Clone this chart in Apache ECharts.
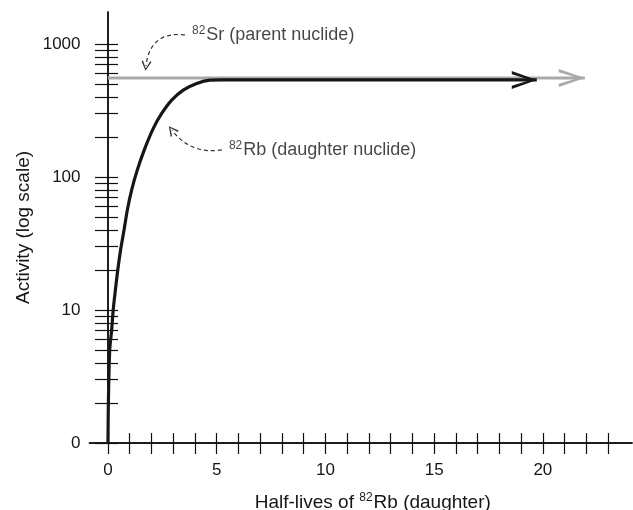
<!DOCTYPE html>
<html>
<head>
<meta charset="utf-8">
<script src="https://cdn.jsdelivr.net/npm/echarts@6/dist/echarts.min.js"></script>
<style>
  html, body { margin: 0; padding: 0; background: #fff; }
  #chart { width: 633px; height: 510px; }
</style>
</head>
<body>
<div id="chart"></div>
<script>
// daughter (82Rb) growth, activity in log units ("0" = 1)
var halfLives = [0, 0.02, 0.08, 0.17, 0.24, 0.34, 0.45, 0.58, 0.74, 0.89, 1.09, 1.35, 1.67, 2.08, 2.47, 2.93, 3.46, 4.08, 4.69, 5.2, 19.72];
var daughterActivity = [1, 2.1, 5, 7.1, 10, 14.1, 20, 28.3, 40, 56.5, 80, 113, 160, 231, 300, 378, 450, 505, 534, 536, 536];
// parent (82Sr) stays flat
var parentTime = [0, 21.93];
var parentActivity = [555, 555];

var xTicks = [0, 1, 2, 3, 4, 5, 6, 7, 8, 9, 10, 11, 12, 13, 14, 15, 16, 17, 18, 19, 20, 21, 22, 23];
var xLabels = [0, 5, 10, 15, 20];
var yTicks = [1, 2, 3, 4, 5, 6, 7, 8, 9, 10, 20, 30, 40, 50, 60, 70, 80, 90, 100, 200, 300, 400, 500, 600, 700, 800, 900, 1000];
var yLabels = [1, 10, 100, 1000];

// annotation anchors [x, activity]
var srArrow = [[3.54, 1169], [1.75, 684]];
var rbArrow = [[5.24, 160], [2.94, 225]];
var notes = [
  { value: [3.54, 1169], text: '{s|82}{t|Sr (parent nuclide)}' },
  { value: [5.24, 160], text: '{s|82}{t|Rb (daughter nuclide)}' }
];

var FONT = 'Liberation Sans, Arial, sans-serif';
var INK = '#161616';
var chevronRight = 'path://M0,0 L24,9 L0,18 L0,14.8 L18,9 L0,3.2 Z';
var chevronUp = 'path://M0,10 L5,0 L10,10 L8.6,10.6 L5,2.6 L1.4,10.6 Z';

function zip(a, b) {
  return a.map(function (v, i) { return [v, b[i]]; });
}

function arrowEnd(data, color, size) {
  var last = data.length - 1;
  data[last] = {
    value: data[last],
    symbol: chevronRight,
    symbolSize: size,
    symbolOffset: [-size[0] / 2, 0],
    itemStyle: { color: color, borderWidth: 0 }
  };
  return data;
}

var chart = echarts.init(document.getElementById('chart'));

var richSup = {
  s: { fontSize: 12, fontFamily: FONT, color: INK, padding: [0, 1, 9, 0] },
  t: { fontSize: 18, fontFamily: FONT, color: INK }
};

function xAxisBase(inside) {
  return {
    type: 'value',
    position: 'bottom',
    min: -0.85,
    max: 24.1,
    axisLine: { onZero: false, lineStyle: { color: '#111', width: 1.5 } },
    axisTick: { inside: inside, length: inside ? 10 : 11, customValues: xTicks, lineStyle: { color: '#111', width: 1.2 } },
    splitLine: { show: false }
  };
}

function yAxisBase(inside) {
  return {
    type: 'log',
    position: 'left',
    logBase: 10,
    min: 1,
    max: 1738,
    axisLine: { onZero: true, onZeroAxisIndex: 0, lineStyle: { color: '#111', width: 1.5 } },
    axisTick: { inside: inside, length: inside ? 10 : 13, customValues: yTicks, lineStyle: { color: '#111', width: 1.2 } },
    splitLine: { show: false }
  };
}

var x0 = xAxisBase(false);
x0.axisLabel = {
  customValues: xLabels,
  margin: 19,
  fontSize: 17,
  fontFamily: FONT,
  color: INK
};
x0.name = '{t|Half-lives of }{s|82}{t|Rb (daughter)}';
x0.nameLocation = 'middle';
x0.nameGap = 49;
x0.nameMoveOverlap = false;
x0.nameTextStyle = {
  padding: [0, 0, 0, 24],
  rich: {
    s: { fontSize: 12, fontFamily: FONT, color: INK, padding: [0, 1, 9, 0] },
    t: { fontSize: 19, fontFamily: FONT, color: INK }
  }
};
var x1 = xAxisBase(true);
x1.axisLabel = { show: false };

var y0 = yAxisBase(false);
y0.axisLabel = {
  customValues: yLabels,
  margin: 9,
  fontSize: 17,
  fontFamily: FONT,
  color: INK,
  formatter: function (v) {
    var r = Math.round(v);
    return r === 1 ? '0' : String(r);
  }
};
y0.name = 'Activity (log scale)';
y0.nameLocation = 'middle';
y0.nameGap = 56;
y0.nameMoveOverlap = false;
y0.nameTextStyle = { fontSize: 19, fontFamily: FONT, color: INK };
var y1 = yAxisBase(true);
y1.axisLabel = { show: false };

chart.setOption({
  animation: false,
  backgroundColor: '#fff',
  grid: { left: 89.5, right: 1, top: 12, bottom: 67, outerBoundsMode: 'none', containLabel: false },
  xAxis: [x0, x1],
  yAxis: [y0, y1],
  series: [
    {
      name: '82Sr',
      type: 'line',
      data: arrowEnd(zip(parentTime, parentActivity), '#a9a9a9', [26, 18]),
      symbol: 'none',
      lineStyle: { color: '#a9a9a9', width: 3 },
      itemStyle: { color: '#a9a9a9', borderWidth: 0 },
      z: 2
    },
    {
      name: '82Rb',
      type: 'line',
      smooth: 0.3,
      data: arrowEnd(zip(halfLives, daughterActivity), INK, [25, 18]),
      symbol: 'none',
      lineStyle: { color: INK, width: 3.2 },
      itemStyle: { color: INK, borderWidth: 0 },
      z: 3
    },
    {
      type: 'lines',
      coordinateSystem: 'cartesian2d',
      symbol: ['none', chevronUp],
      symbolSize: [8, 10],
      lineStyle: { color: '#333', width: 1.2, type: [4, 3], opacity: 1 },
      data: [
        { coords: srArrow, lineStyle: { curveness: -0.5 } },
        { coords: rbArrow, lineStyle: { curveness: 0.3 } }
      ],
      z: 4
    },
    {
      type: 'scatter',
      symbolSize: 0,
      data: notes.map(function (n) { return { value: n.value, label: { formatter: n.text } }; }),
      label: {
        show: true,
        position: 'right',
        distance: 7,
        rich: richSup
      },
      z: 5
    }
  ]
});
</script>
</body>
</html>
